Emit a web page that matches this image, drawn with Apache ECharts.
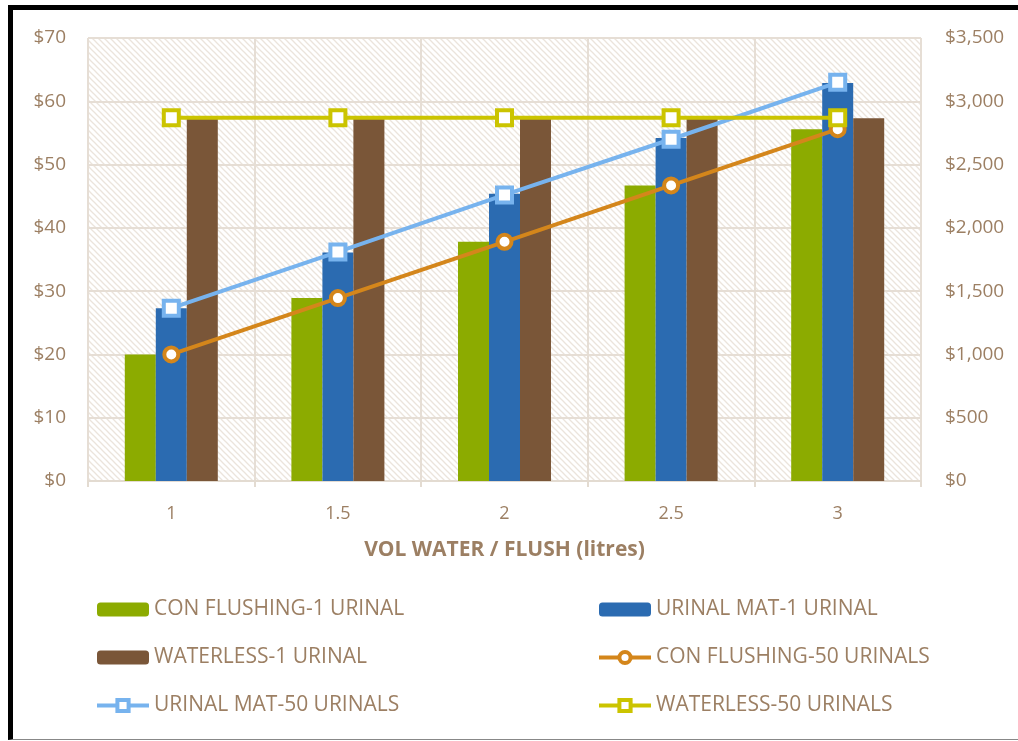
<!DOCTYPE html>
<html><head><meta charset="utf-8">
<script src="https://cdn.jsdelivr.net/npm/echarts@6/dist/echarts.min.js"></script>
<style>
html,body{margin:0;padding:0;background:#fff;}
#frame{position:absolute;left:8px;top:5px;width:1015px;height:729px;border-top:5px solid #000;border-left:5px solid #000;border-bottom:1px solid #888;}
#c{position:absolute;left:0;top:0;width:1018px;height:741px;}
</style></head><body>
<div id="frame"></div>
<div id="c"></div>
<script>
const categories = ['1','1.5','2','2.5','3'];
const conFlushing1 = [20.0, 28.9, 37.8, 46.7, 55.6];
const urinalMat1 = [27.3, 36.1, 45.4, 54.2, 62.9];
const waterless1 = [57.2, 57.2, 57.2, 57.2, 57.3];
const conFlushing50 = [1000, 1445, 1890, 2335, 2780];
const urinalMat50 = [1365, 1810, 2260, 2700, 3150];
const waterless50 = [2870, 2870, 2870, 2870, 2870];

const txt = '#9c7f63';
const font = 'Open Sans';

const pc = document.createElement('canvas');
pc.width = 6; pc.height = 6;
const g = pc.getContext('2d');
g.fillStyle = '#ffffff'; g.fillRect(0,0,6,6);
g.strokeStyle = '#ebe4dc'; g.lineWidth = 1.3;
g.beginPath(); g.moveTo(-1,-1); g.lineTo(7,7); g.stroke();
g.beginPath(); g.moveTo(-1,5); g.lineTo(1,7); g.stroke();
g.beginPath(); g.moveTo(5,-1); g.lineTo(7,1); g.stroke();

const chart = echarts.init(document.getElementById('c'));
const lineCommon = (name, data, color, symbol, size) => ({
  name, type:'line', yAxisIndex:1, data,
  symbol, symbolSize:size,
  lineStyle:{color, width:4},
  itemStyle:{color:'#fff', borderColor:color, borderWidth:4},
  z:5
});
const lineLegend = (name) => ({name, lineStyle:{width:4}, itemStyle:{borderWidth:4}});
const legendCommon = {orient:'vertical', itemGap:27, itemWidth:52, itemHeight:14, padding:0,
  textStyle:{color:txt, fontSize:21, fontFamily:font}};
chart.setOption({
  animation:false,
  textStyle:{fontFamily:font},
  grid:{left:88, right:97, top:38, bottom:260, show:true, backgroundColor:{image:pc, repeat:'repeat'}, borderWidth:0},
  xAxis:{type:'category', data:categories, boundaryGap:true,
    name:'VOL WATER / FLUSH (litres)', nameLocation:'middle', nameGap:59,
    nameTextStyle:{color:txt, fontSize:21, fontWeight:'bold', fontFamily:font},
    axisLine:{lineStyle:{color:'#e3dbd1', width:2}},
    axisTick:{show:true, length:6, lineStyle:{color:'#e3dbd1', width:2}},
    axisLabel:{color:txt, fontSize:18, margin:24},
    splitLine:{show:true, lineStyle:{color:'#e6ded5', width:2}}
  },
  yAxis:[
    {type:'value', min:0, max:70, interval:10, position:'left',
     axisLabel:{color:txt, fontSize:19, margin:22, formatter:v=>'$'+v},
     axisLine:{show:false}, axisTick:{show:false},
     splitLine:{lineStyle:{color:'#e6ded5', width:2}}},
    {type:'value', min:0, max:3500, interval:500, position:'right',
     axisLabel:{color:txt, fontSize:19, margin:24, formatter:v=>'$'+v.toLocaleString('en-US')},
     axisLine:{show:false}, axisTick:{show:false}, splitLine:{show:false}}
  ],
  legend:[
    Object.assign({left:95, top:599, data:['CON FLUSHING-1 URINAL','WATERLESS-1 URINAL',lineLegend('URINAL MAT-50 URINALS')]}, legendCommon),
    Object.assign({left:597, top:599, data:['URINAL MAT-1 URINAL',lineLegend('CON FLUSHING-50 URINALS'),lineLegend('WATERLESS-50 URINALS')]}, legendCommon)
  ],
  series:[
    {name:'CON FLUSHING-1 URINAL', type:'bar', data:conFlushing1, barWidth:31, barGap:'0%', itemStyle:{color:'#8cab00'}},
    {name:'URINAL MAT-1 URINAL', type:'bar', data:urinalMat1, barWidth:31, barGap:'0%', itemStyle:{color:'#2b6bb1'}},
    {name:'WATERLESS-1 URINAL', type:'bar', data:waterless1, barWidth:31, barGap:'0%', itemStyle:{color:'#7a5638'}},
    lineCommon('CON FLUSHING-50 URINALS', conFlushing50, '#d4861b', 'circle', 14),
    lineCommon('URINAL MAT-50 URINALS', urinalMat50, '#77b3ee', 'rect', 15),
    lineCommon('WATERLESS-50 URINALS', waterless50, '#cbc400', 'rect', 15)
  ]
});
</script>
</body></html>
